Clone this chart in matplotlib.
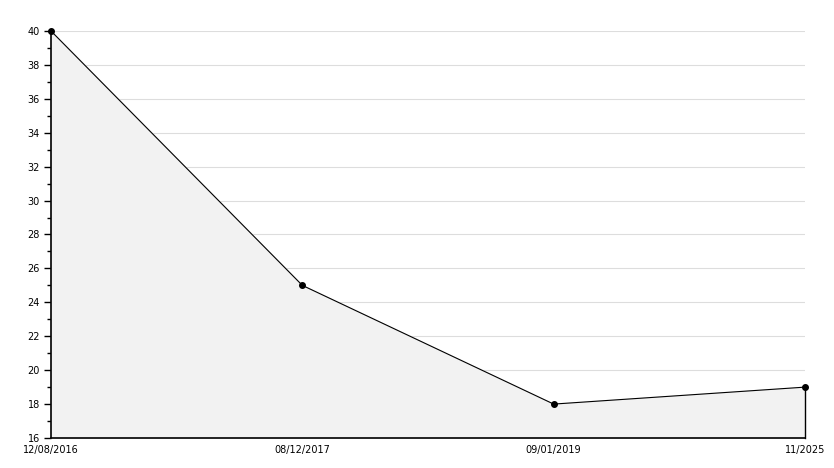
import matplotlib
matplotlib.use("Agg")
import matplotlib.pyplot as plt
import numpy as np

dates = ["12/08/2016", "08/12/2017", "09/01/2019", "11/2025"]
values = [40, 25, 18, 19]

fig = plt.figure(figsize=(8.34, 4.68), dpi=100)
ax = fig.add_axes([51 / 834, 30 / 468, 754 / 834, 407 / 468])

x = np.arange(len(dates))
ax.fill_between(x, values, 16, color="#f2f2f2", zorder=1)
ax.plot(x, values, color="black", lw=0.8, marker="o", ms=4, zorder=3, clip_on=False)
ax.plot([x[-1], x[-1]], [16, values[-1]], color="black", lw=1, zorder=3, clip_on=False)

ax.set_xlim(x[0], x[-1])
ax.set_ylim(16, 40)
ax.set_xticks(x)
ax.set_xticklabels(dates)
ax.set_yticks(np.arange(16, 41, 2))
ax.set_yticks(np.arange(17, 40, 2), minor=True)
ax.grid(axis="y", color="#dddddd", lw=0.8, zorder=0)
ax.set_axisbelow(True)

for s in ["top", "right"]:
    ax.spines[s].set_visible(False)
for s in ["left", "bottom"]:
    ax.spines[s].set_linewidth(1.2)

ax.tick_params(axis="y", which="major", length=5, width=1, labelsize=7, pad=3)
ax.tick_params(axis="y", which="minor", length=3, width=1)
ax.tick_params(axis="x", length=0, labelsize=7, pad=5)

fig.savefig("out.png", dpi=100)
